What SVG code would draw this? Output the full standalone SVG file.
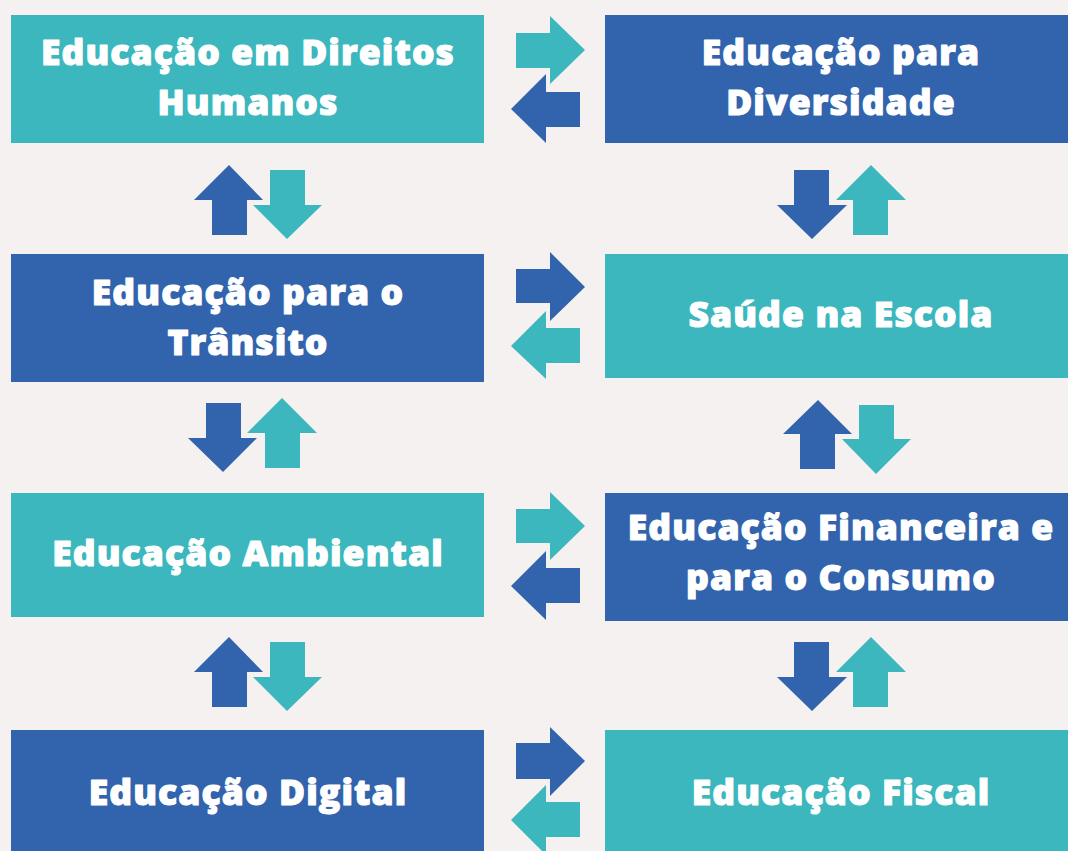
<svg xmlns="http://www.w3.org/2000/svg" width="1068" height="851" viewBox="0 0 1068 851">
<style>
.teal{fill:#3BB7BD}
.blue{fill:#3264AD}
.t{fill:#FFFFFF;stroke:#FFFFFF;stroke-width:1.1px;stroke-linejoin:round;font-family:"Open Sans","Noto Sans","DejaVu Sans",sans-serif;font-weight:800;font-size:35.5px;letter-spacing:1.1px;text-anchor:middle}
</style>
<rect x="0" y="0" width="1068" height="851" fill="#F5F1F0"/>
<g id="n1"><rect class="teal" x="11" y="15" width="473" height="128"/><text class="t" x="248" y="65">Educação em Direitos</text><text class="t" x="248" y="115">Humanos</text></g>
<g id="n2"><rect class="blue" x="605" y="15" width="463" height="128"/><text class="t" x="841" y="65">Educação para</text><text class="t" x="841" y="115">Diversidade</text></g>
<g id="n3"><rect class="blue" x="11" y="254" width="473" height="128"/><text class="t" x="248" y="305">Educação para o</text><text class="t" x="248" y="355">Trânsito</text></g>
<g id="n4"><rect class="teal" x="605" y="254" width="463" height="124"/><text class="t" x="841" y="327">Saúde na Escola</text></g>
<g id="n5"><rect class="teal" x="11" y="493" width="473" height="124"/><text class="t" x="248" y="566">Educação Ambiental</text></g>
<g id="n6"><rect class="blue" x="605" y="493" width="463" height="128"/><text class="t" x="841" y="540">Educação Financeira e</text><text class="t" x="841" y="590">para o Consumo</text></g>
<g id="n7"><rect class="blue" x="11" y="730" width="473" height="121"/><text class="t" x="248" y="805">Educação Digital</text></g>
<g id="n8"><rect class="teal" x="605" y="730" width="463" height="121"/><text class="t" x="841" y="805">Educação Fiscal</text></g>
<g id="connectors">
<polygon class="teal" points="516,33 550,33 550,16 585,50 550,84 550,68 516,68"/>
<polygon class="blue" points="580,92 546,92 546,74 511,109 546,143 546,127 580,127"/>
<polygon class="blue" points="516,269 550,269 550,252 585,287 550,321 550,303 516,303"/>
<polygon class="teal" points="580,328 546,328 546,311 511,346 546,379 546,363 580,363"/>
<polygon class="teal" points="516,509 550,509 550,492 585,526 550,560 550,543 516,543"/>
<polygon class="blue" points="580,568 546,568 546,551 511,586 546,620 546,603 580,603"/>
<polygon class="blue" points="516,743 550,743 550,727 585,761 550,796 550,779 516,779"/>
<polygon class="teal" points="580,802 546,802 546,785 511,820 546,855 546,837 580,837"/>
<polygon class="blue" points="212,235 212,200 194,200 229,165 263,200 247,200 247,235"/>
<polygon class="teal" points="270,170 305,170 305,205 322,205 287,239 253,205 270,205"/>
<polygon class="blue" points="794,170 829,170 829,205 847,205 812,239 777,205 794,205"/>
<polygon class="teal" points="853,235 853,200 836,200 871,165 906,200 888,200 888,235"/>
<polygon class="blue" points="206,403 241,403 241,438 257,438 223,472 188,438 206,438"/>
<polygon class="teal" points="265,468 265,433 247,433 282,398 317,433 300,433 300,468"/>
<polygon class="blue" points="800,469 800,434 783,434 818,400 852,434 835,434 835,469"/>
<polygon class="teal" points="859,405 894,405 894,439 911,439 876,474 842,439 859,439"/>
<polygon class="blue" points="212,707 212,672 194,672 229,637 263,672 247,672 247,707"/>
<polygon class="teal" points="270,642 305,642 305,677 322,677 287,711 253,677 270,677"/>
<polygon class="blue" points="794,642 829,642 829,677 847,677 812,711 777,677 794,677"/>
<polygon class="teal" points="853,707 853,672 836,672 871,637 906,672 888,672 888,707"/>
</g>
</svg>
